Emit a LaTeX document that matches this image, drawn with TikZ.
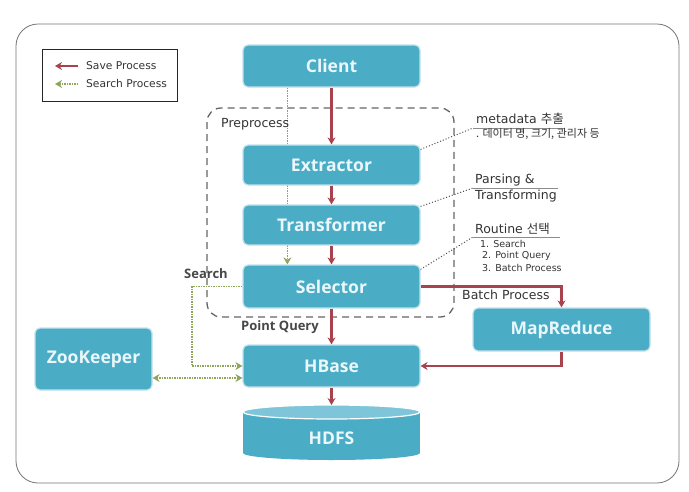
\documentclass[tikz,border=0pt]{standalone}
\usepackage{fontspec}
\setmainfont{DejaVu Sans}
\newfontfamily\boxfont{Open Sans}
\newfontfamily\kr{Noto Sans CJK KR}
\usetikzlibrary{arrows.meta,backgrounds}
\definecolor{boxblue}{HTML}{4BACC6}
\definecolor{boxtext}{HTML}{EAF7FB}
\definecolor{savered}{HTML}{A8434E}
\definecolor{searchgreen}{HTML}{8FA65A}
\definecolor{cyltop}{HTML}{7EC5D9}
\begin{document}
\begin{tikzpicture}[x=1pt,y=-1pt,
  blk/.style={rectangle, rounded corners=5pt, fill=boxblue, draw=white!65!boxblue, line width=1.2pt,
    text=boxtext, font=\boxfont\bfseries\fontsize{17.5}{20}\selectfont, minimum width=177pt, inner sep=0pt},
  save/.style={draw=savered, line width=2.2pt, -{Stealth[length=7pt,width=8pt]}},
  search/.style={draw=searchgreen, line width=1.5pt, densely dotted, -{Stealth[length=7pt,width=8pt]}},
  conn/.style={draw=black!70, line width=1pt, dotted},
  uline/.style={draw=black!45, line width=0.5pt},
  ann/.style={font=\fontsize{12.5}{14}\selectfont, text=black!80, inner sep=0pt, anchor=west},
  small/.style={font=\fontsize{9.5}{11}\selectfont, text=black!80, inner sep=0pt, anchor=west},
  lbl/.style={font=\boxfont\bfseries\fontsize{13}{15}\selectfont, text=black!72, inner sep=0pt},
  legtxt/.style={font=\fontsize{10.7}{12}\selectfont, text=black!80, inner sep=0pt, anchor=west},
  prep/.style={draw=black!60, line width=1.3pt, dash pattern=on 7pt off 5pt, rounded corners=14pt},
  frame/.style={draw=black!55, line width=0.8pt, rounded corners=22pt}
]
\useasboundingbox (0,0) rectangle (689,491);

% outer frame
\draw[frame] (16,24) rectangle (679,483);

% legend
\node[draw=black!85, line width=1pt, minimum width=135pt, minimum height=52pt, inner sep=0pt] (legend) at (109.5,75) {};
\coordinate (l1a) at (78,66); \coordinate (l1b) at (55,66);
\coordinate (l2a) at (78,84); \coordinate (l2b) at (55,84);
\draw[save] (l1a) -- (l1b);
\draw[search] (l2a) -- (l2b);
\node[legtxt] (lt1) at (86,66) {Save Process};
\node[legtxt] (lt2) at (86,84) {Search Process};

% preprocess region
\draw[prep] (207,108) rectangle (454,317);
\node[ann] (preplbl) at (221,124) {Preprocess};

% boxes
\node[blk, minimum height=42pt] (client) at (331.5,66) {Client};
\node[blk, minimum height=40pt] (extractor) at (331.5,165) {Extractor};
\node[blk, minimum height=40pt] (transformer) at (331.5,225) {Transformer};
\node[blk, minimum height=43pt] (selector) at (331.5,286.5) {Selector};
\node[blk, minimum height=42pt] (hbase) at (331.5,366) {HBase};
\node[blk, minimum width=117pt, minimum height=62pt] (zookeeper) at (93.5,359) {ZooKeeper};
\node[blk, minimum height=43pt] (mapreduce) at (561.5,329.5) {MapReduce};

% HDFS cylinder
\fill[boxblue] (243,412) rectangle (420,453);
\fill[boxblue] (331.5,453) ellipse [x radius=88.5pt, y radius=7pt];
\filldraw[fill=cyltop, draw=white, line width=1.2pt] (331.5,412) ellipse [x radius=88.5pt, y radius=7pt];
\node[text=boxtext, font=\boxfont\bfseries\fontsize{17.5}{20}\selectfont, inner sep=0pt] (hdfs) at (331.5,438) {HDFS};
\coordinate (hdfstop) at (331.5,405);

% save process (red)
\draw[save] (client) -- (extractor);
\draw[save] (extractor) -- (transformer);
\draw[save] (transformer) -- (selector);
\draw[save] (selector) -- (hbase);
\draw[save] (hbase) -- (hdfstop);
\draw[save] (selector.east) -| (mapreduce.north);
\draw[save] (mapreduce.south) |- (hbase.east);

% search process (green)
\begin{pgfonlayer}{background}
\draw[search] ([xshift=45pt]client.south west) -- ([xshift=45pt]selector.north west);
\end{pgfonlayer}
\coordinate (sx) at (192,300);
\draw[search] (selector.west) -- (selector.west -| sx) |- (hbase.west);
\coordinate (zk) at (200,378);
\draw[search, {Stealth[length=7pt,width=8pt]}-{Stealth[length=7pt,width=8pt]}] (zookeeper.east |- zk) -- (hbase.west |- zk);

% labels
\node[lbl] (searchlbl) at (206,274) {Search};
\node[lbl] (pqlbl) at (280,327) {Point Query};
\node[ann] (batchlbl) at (462,295) {Batch Process};

% annotations
\coordinate (a1) at (473,128);
\draw[conn] ([yshift=-5pt]extractor.north east) -- (a1);
\draw[uline] (a1) -- ++(92,0);
\node[ann] (meta1) at (476,119) {metadata {\kr 추출}};
\node[small, font=\kr\fontsize{11}{12}\selectfont] (meta2) at (476,134) {. 데이터 명, 크기, 관리자 등};

\coordinate (a2) at (473,188);
\draw[conn] ([yshift=-2pt]transformer.north east) -- (a2);
\draw[uline] (a2) -- ++(85,0);
\node[ann] (pars1) at (475,180) {Parsing \&};
\node[ann] (pars2) at (475,196) {Transforming};

\coordinate (a3) at (473,237);
\draw[conn] ([yshift=-5pt]selector.north east) -- (a3);
\draw[uline] (a3) -- ++(87,0);
\node[ann] (rt) at (475,229) {Routine {\kr 선택}};
\node[small] (r1) at (480,244) {1. Search};
\node[small] (r2) at (482,256) {2. Point Query};
\node[small] (r3) at (482,268) {3. Batch Process};
\end{tikzpicture}
\end{document}
